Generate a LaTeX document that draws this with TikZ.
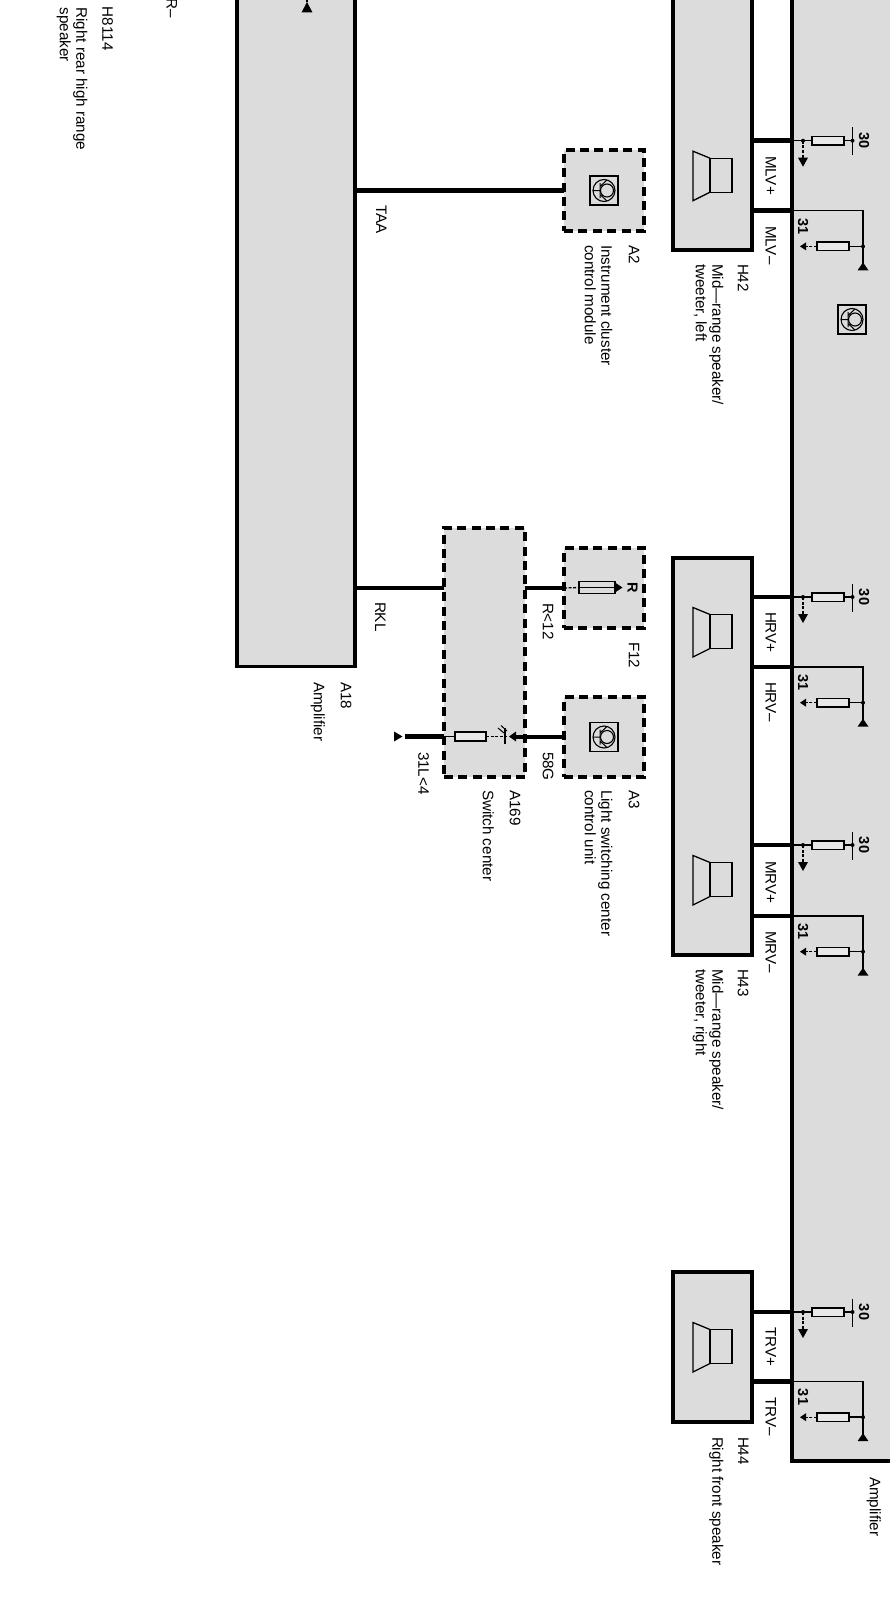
\documentclass[tikz,border=0pt]{standalone}
\usepackage{fontspec}
\setmainfont{Liberation Sans}
\usetikzlibrary{calc}
\definecolor{panel}{HTML}{DCDCDC}
\definecolor{resfill}{HTML}{E8E8E8}
\tikzset{
  solidbox/.style={draw=black,line width=3.6pt,fill=panel,inner sep=0pt,outer sep=0pt},
  dashbox/.style={draw=black,line width=3.4pt,fill=panel,inner sep=0pt,outer sep=0pt,dash pattern=on 9pt off 5.4pt},
  heavywire/.style={line width=4.8pt,draw=black},
  thinwire/.style={line width=1.5pt,draw=black},
  dashwire/.style={line width=1.3pt,draw=black,dash pattern=on 3pt off 1.6pt},
  resistor/.style={draw=black,line width=1.5pt,fill=resfill,inner sep=0pt,outer sep=0pt,minimum width=32pt,minimum height=8.5pt},
  lbl/.style={rotate=-90,anchor=north west,inner sep=0pt,outer sep=0pt,align=left,font=\fontsize{15.2}{16.6}\selectfont},
  numlbl/.style={rotate=-90,anchor=center,inner sep=0pt,font=\fontsize{14.5}{16}\bfseries\selectfont},
  jdot/.style={circle,fill=black,inner sep=0pt,outer sep=0pt,minimum size=4pt},
  horn/.style={draw=black,line width=1.3pt,line join=miter},
  iconbox/.style={draw=black,line width=1.4pt,inner sep=0pt,outer sep=0pt,minimum width=28pt,minimum height=29pt}
}
\newcommand{\rectnode}[6]{%
  \pgfmathsetmacro\rcx{(#3+#5)/2}\pgfmathsetmacro\rcy{(#4+#6)/2}%
  \pgfmathsetmacro\rww{#5-#3}\pgfmathsetmacro\rhh{#6-#4}%
  \node[#2,minimum width=\rww pt,minimum height=\rhh pt] (#1) at (\rcx,\rcy) {};}
% transistor-like module icon
\newcommand{\modicon}[3]{%
  \node[iconbox] (#1) at (#2,#3) {};
  \begin{scope}[shift={(#2,#3)}]
    \draw[line width=1.1pt] (0,0) circle (11);
    \draw[line width=1.1pt,fill=panel] (3,0) circle (6.5);
    \draw[line width=1pt] (-11,0) -- (-3.5,0) (-4,-7.5) -- (-4,7.5) (-4,-4) -- (3,-10.5) (-4,4) -- (3,10.5);
  \end{scope}}
% loudspeaker drawn beside the + pin at height #1
\newcommand{\speaker}[1]{%
  \pgfmathsetmacro\sy{#1}%
  \draw[horn] ($(710,\sy+17.5)$) rectangle ($(732,\sy+51.5)$);
  \draw[horn] ($(710,\sy+17.5)$) -- ($(693,\sy+10.5)$) -- ($(693,\sy+60)$) -- ($(710,\sy+51.5)$);}
% amplifier output stage: tag, y of + wire, y of - wire
\newcommand{\ampdriver}[3]{%
  \coordinate (#1p) at (792,#2);
  \coordinate (#1m) at (792,#3);
  \pgfmathsetmacro\ypl{#2}\pgfmathsetmacro\ymn{#3}%
  \node[resistor] (#1rp) at (828,\ypl) {};
  \node[jdot] (#1jp) at (803,\ypl) {};
  \node[jdot] (#1bp) at (852.5,\ypl) {};
  \draw[thinwire] (#1p) -- (#1rp.west);
  \draw[thinwire] (#1rp.east) -- (#1bp.center);
  \draw[thinwire] ($(#1bp)+(0,-13.5)$) -- ($(#1bp)+(0,14.5)$);
  \draw[dashwire] (#1jp.center) -- ($(#1jp)+(0,18)$);
  \fill[black] ($(#1jp)+(-5,17)$) -- ($(#1jp)+(5,17)$) -- ($(#1jp)+(0,26)$) -- cycle;
  \node[numlbl] at ($(#1bp)+(11.5,0)$) {30};
  \node[numlbl] at ($(#1m)+(11,15.5)$) {31};
  \node[resistor] (#1rm) at (833,\ymn+35.7) {};
  \node[jdot] (#1jm) at (863,\ymn+35.7) {};
  \coordinate (#1tm) at (806,\ymn+35.7);
  \draw[thinwire] (#1m) -- (863,\ymn) -- ($(#1jm)+(0,18)$);
  \draw[thinwire] (#1rm.east) -- (#1jm.center);
  \draw[dashwire] (#1rm.west) -- (#1tm);
  \fill[black] ($(#1tm)+(0,-4)$) -- ($(#1tm)+(0,4)$) -- ($(#1tm)+(-6,0)$) -- cycle;
  \fill[black] ($(#1jm)+(0,16)$) -- ($(#1jm)+(5.5,24)$) -- ($(#1jm)+(-5.5,24)$) -- cycle;
}
\begin{document}
\begin{tikzpicture}[x=1pt,y=-1pt]
\useasboundingbox (0,0) rectangle (890,1603);
\clip (0,0) rectangle (890,1603);
\fill[white] (0,0) rectangle (890,1603);

% amplifier panel on the right
\rectnode{amp}{solidbox}{792}{-30}{920}{1461}
% left amplifier
\rectnode{afe}{solidbox}{237}{-30}{355}{666.5}
% speakers
\rectnode{hfz}{solidbox}{673}{-30}{752}{250}
\rectnode{hft}{solidbox}{673}{558}{752}{955}
\rectnode{hff}{solidbox}{673}{1272}{752}{1422}
% dashed modules
\rectnode{atwo}{dashbox}{564}{150}{644}{231}
\rectnode{fuse}{dashbox}{564}{548}{644}{628}
\rectnode{athree}{dashbox}{564}{697}{644}{777}
\rectnode{switch}{dashbox}{444}{528}{525}{777}

% module icons
\modicon{icaa}{604}{190.5}
\modicon{icab}{604}{737}
\modicon{icac}{852}{319.5}

% loudspeaker symbols
\speaker{140.7}
\speaker{597}
\speaker{845}
\speaker{1312}

% amplifier output stages
\ampdriver{ml}{140.7}{210.7}
\ampdriver{hr}{597}{667}
\ampdriver{mr}{845}{916}
\ampdriver{tr}{1312}{1381.5}

% speaker connections
\foreach \tg/\bx in {ml/hfz,hr/hft,mr/hft,tr/hff}{
  \draw[heavywire] (\tg p) -- (\tg p -| \bx.east);
  \draw[heavywire] (\tg m) -- (\tg m -| \bx.east);
}

% left amplifier: feed arrow cut by the top edge
\coordinate (afetip) at (307,2);
\draw[thinwire] (afetip) -- ++(0,-10);
\fill[black] (afetip) -- ++(5.5,10.5) -- ++(-11,0) -- cycle;

% harness wires
\draw[heavywire,line width=4.4pt] (afe.east |- atwo.west) -- (atwo.west);
\draw[heavywire,line width=4.4pt] (afe.east |- fuse.west) -- (switch.west |- fuse.west);
\draw[heavywire] (switch.east |- fuse.west) -- (fuse.west);
\draw[heavywire] (switch.east |- athree.west) -- (athree.west);

% fuse
\node[draw=black,line width=1.5pt,fill=panel,inner sep=0pt,outer sep=0pt,minimum width=36pt,minimum height=12pt] (fusebody) at (597,587.5) {};
\draw[thinwire] (fusebody.west) -- (fusebody.east);
\draw[dashwire] (fuse.west) -- (fusebody.west);
\fill[black] (fusebody.east)++(0,-5) -- ++(7.5,5) -- ++(-7.5,5) -- cycle;
\node[rotate=-90,inner sep=0pt,font=\fontsize{14.5}{15}\bfseries\selectfont] at (632.5,587.5) {R};

% switch center circuit
\node[resistor,minimum width=31pt,minimum height=9pt] (swres) at (470.5,736.5) {};
\coordinate (gndA) at (405,736.5);
\coordinate (ledL) at (509,736.5);
\draw[heavywire,line width=4.4pt] (gndA) -- (switch.west |- gndA);
\draw[thinwire] (switch.west |- gndA) -- (swres.west);
\draw[dashwire] (swres.east) -- (ledL);
\fill[black] (gndA)++(-11,-5) -- ++(0,10) -- ++(8.5,-5) -- cycle;
\draw[heavywire,line width=4pt] (ledL)++(6,0) -- (switch.east |- gndA);
\fill[black] (ledL) -- ++(7,-5) -- ++(0,10) -- cycle;
\draw[line width=1.4pt] (505,728) -- (505,744);
\draw[line width=1pt] (498,728) -- (504,733) (501,725.5) -- (507,731);

% labels
\node[lbl] at (113,7) {H8114};
\node[lbl] at (87.5,7.5) {Right rear high range\\speaker};
\node[lbl,anchor=north east] at (177,17.5) {R–};
\node[lbl] at (386.5,205) {TAA};
\node[lbl] at (639.5,245) {A2};
\node[lbl] at (612.5,245) {Instrument cluster\\control module};
\node[lbl] at (748.5,264) {H42};
\node[lbl] at (723.5,264) {Mid—range speaker/\\tweeter, left};
\node[lbl] at (776,156) {MLV+};
\node[lbl] at (776,226) {MLV–};
\node[lbl] at (776,612) {HRV+};
\node[lbl] at (776,682) {HRV–};
\node[lbl] at (776,861) {MRV+};
\node[lbl] at (776,931) {MRV–};
\node[lbl] at (776,1327) {TRV+};
\node[lbl] at (776,1397) {TRV–};
\node[lbl] at (385.5,602) {RKL};
\node[lbl] at (553.5,603) {R<12};
\node[lbl] at (639.5,642) {F12};
\node[lbl] at (639.5,790) {A3};
\node[lbl] at (612.5,790) {Light switching center\\control unit};
\node[lbl] at (553.5,752) {58G};
\node[lbl] at (520.5,790) {A169};
\node[lbl] at (494,790) {Switch center};
\node[lbl] at (429,752) {31L<4};
\node[lbl] at (351.5,682) {A18};
\node[lbl] at (325,682) {Amplifier};
\node[lbl] at (748.5,969) {H43};
\node[lbl] at (723.5,969) {Mid—range speaker/\\tweeter, right};
\node[lbl] at (748.5,1437) {H44};
\node[lbl] at (723.5,1437) {Right front speaker};
\node[lbl] at (881,1477) {Amplifier};
\end{tikzpicture}
\end{document}
